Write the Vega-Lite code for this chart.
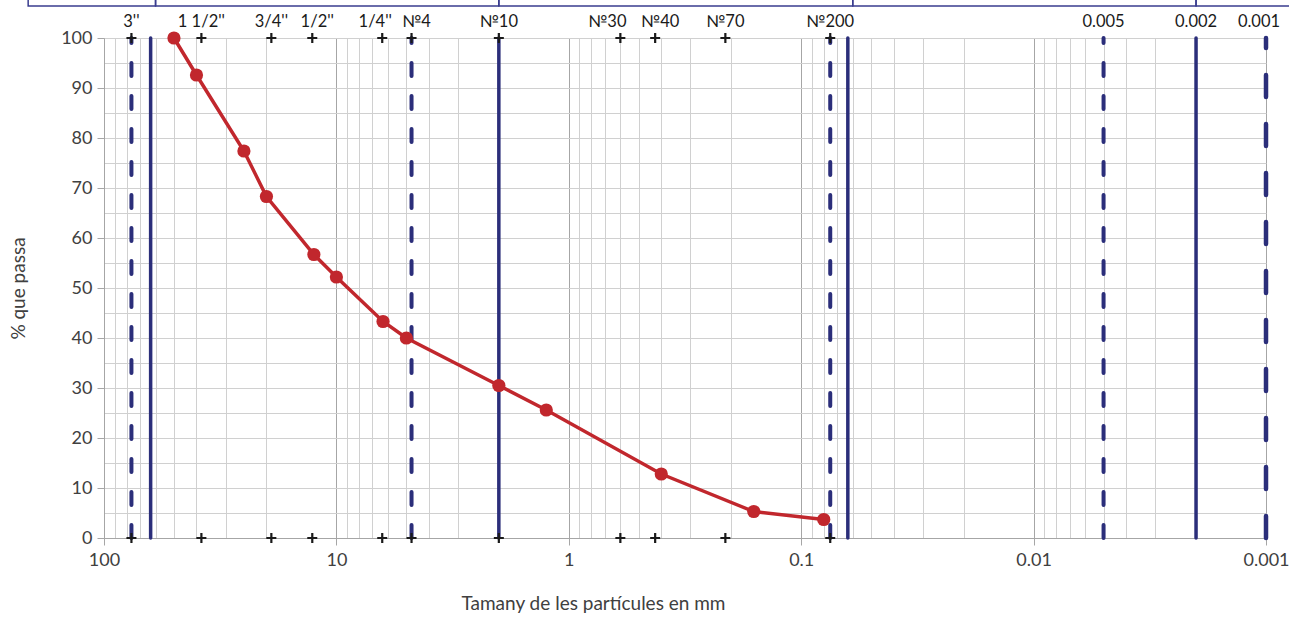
{
  "$schema": "https://vega.github.io/schema/vega-lite/v6.json",
  "autosize": "none",
  "width": 1162,
  "height": 500,
  "padding": {"left": 104, "top": 38, "right": 23, "bottom": 79},
  "background": "white",
  "config": {
    "view": {"stroke": null},
    "font": "Lato",
    "axis": {"labelFont": "Lato", "titleFont": "Lato", "labelColor": "#404040", "titleColor": "#404040", "titleFontWeight": "normal"},
    "text": {"baseline": "middle", "align": "center", "dy": -16, "fontSize": 16.5, "font": "Lato", "color": "#1a1a1a"}
  },
  "encoding": {
    "x": {
      "field": "d",
      "type": "quantitative",
      "scale": {"type": "log", "domain": [0.001, 100], "reverse": true, "nice": false, "zero": false},
      "axis": {
        "values": [100, 90, 80, 70, 60, 50, 40, 30, 20, 10, 9, 8, 7, 6, 5, 4, 3, 2, 1, 0.9, 0.8, 0.7, 0.6, 0.5, 0.4, 0.3, 0.2, 0.1, 0.09, 0.08, 0.07, 0.06, 0.05, 0.04, 0.03, 0.02, 0.01, 0.009, 0.008, 0.007, 0.006, 0.005, 0.004, 0.003, 0.002, 0.001],
        "format": "~g",
        "labelExpr": "abs(log(datum.value)/LN10 - round(log(datum.value)/LN10)) < 0.001 ? datum.label : ''",
        "labelOverlap": false,
        "labelBound": false,
        "labelFlush": false,
        "labelFontSize": 18,
        "labelPadding": 6,
        "grid": true,
        "gridColor": {"condition": {"test": "abs(log(datum.value)/LN10 - round(log(datum.value)/LN10)) < 0.001", "value": "#a6a6a6"}, "value": "#d0d0d0"},
        "gridWidth": 1,
        "tickColor": {"condition": {"test": "abs(log(datum.value)/LN10 - round(log(datum.value)/LN10)) < 0.001", "value": "#a6a6a6"}, "value": "transparent"},
        "tickSize": 7,
        "domainColor": "#a6a6a6",
        "title": "Tamany de les partícules en mm",
        "titleFontSize": 19,
        "titleX": 489,
        "titleY": 65,
        "titleAlign": "center",
        "titleBaseline": "middle"
      }
    },
    "y": {
      "field": "p",
      "type": "quantitative",
      "scale": {"domain": [0, 100], "nice": false, "zero": false},
      "axis": {
        "values": [0, 5, 10, 15, 20, 25, 30, 35, 40, 45, 50, 55, 60, 65, 70, 75, 80, 85, 90, 95, 100],
        "labelExpr": "datum.value % 10 === 0 ? datum.label : ''",
        "labelOverlap": false,
        "labelFontSize": 18,
        "labelPadding": 5,
        "grid": true,
        "gridColor": "#d0d0d0",
        "tickColor": {"condition": {"test": "datum.value % 10 === 0", "value": "#a6a6a6"}, "value": "transparent"},
        "tickSize": 7,
        "domainColor": "#a6a6a6",
        "title": "% que passa",
        "titleFontSize": 19,
        "titleX": -86,
        "titleY": 250,
        "titleAngle": -90,
        "titleAlign": "center",
        "titleBaseline": "middle"
      }
    }
  },
  "layer": [
    {
      "data": {"values": [
        {"d": 212, "d2": 60, "p": 106.4, "p2": 125},
        {"d": 60, "d2": 2, "p": 106.4, "p2": 125},
        {"d": 2, "d2": 0.06, "p": 106.4, "p2": 125},
        {"d": 0.06, "d2": 0.002, "p": 106.4, "p2": 125},
        {"d": 0.002, "d2": 0.0002, "p": 106.4, "p2": 125}
      ]},
      "mark": {"type": "rect", "fill": null, "stroke": "#3a3d8f", "strokeWidth": 1.5, "clip": false},
      "encoding": {"x2": {"field": "d2"}, "y2": {"field": "p2"}}
    },
    {
      "data": {"values": [
        {"d": 63, "p": 0, "p2": 100},
        {"d": 2, "p": 0, "p2": 100},
        {"d": 0.063, "p": 0, "p2": 100},
        {"d": 0.002, "p": 0, "p2": 100}
      ]},
      "mark": {"type": "rule", "color": "#2b2e7a", "strokeWidth": 3.5, "strokeCap": "round"},
      "encoding": {"y2": {"field": "p2"}}
    },
    {
      "data": {"values": [
        {"d": 76.2, "p": 0, "p2": 100},
        {"d": 4.75, "p": 0, "p2": 100},
        {"d": 0.075, "p": 0, "p2": 100},
        {"d": 0.005, "p": 0, "p2": 100}
      ]},
      "mark": {"type": "rule", "color": "#2b2e7a", "strokeWidth": 4, "strokeCap": "round", "strokeDash": [13, 20]},
      "encoding": {"y2": {"field": "p2"}}
    },
    {
      "data": {"values": [
        {"d": 0.001, "p": 0, "p2": 100}
      ]},
      "mark": {"type": "rule", "color": "#2b2e7a", "strokeWidth": 4.5, "strokeCap": "round", "strokeDash": [22, 27]},
      "encoding": {"y2": {"field": "p2"}}
    },
    {
      "data": {"values": [
        {"d": 50, "p": 100},
        {"d": 40, "p": 92.6},
        {"d": 25, "p": 77.4},
        {"d": 20, "p": 68.3},
        {"d": 12.5, "p": 56.7},
        {"d": 10, "p": 52.2},
        {"d": 6.3, "p": 43.3},
        {"d": 5, "p": 40.0},
        {"d": 2, "p": 30.5},
        {"d": 1.25, "p": 25.6},
        {"d": 0.4, "p": 12.8},
        {"d": 0.16, "p": 5.3},
        {"d": 0.08, "p": 3.7}
      ]},
      "mark": {"type": "line", "color": "#c1272d", "strokeWidth": 3.5, "point": {"filled": true, "size": 175, "color": "#c1272d", "opacity": 1}}
    },
    {
      "data": {"values": [
        {"d": 76.2, "p": 100}, {"d": 38.1, "p": 100}, {"d": 19.05, "p": 100}, {"d": 12.7, "p": 100}, {"d": 6.35, "p": 100}, {"d": 4.75, "p": 100}, {"d": 2, "p": 100}, {"d": 0.6, "p": 100}, {"d": 0.425, "p": 100}, {"d": 0.212, "p": 100}, {"d": 0.075, "p": 100},
        {"d": 76.2, "p": 0}, {"d": 38.1, "p": 0}, {"d": 19.05, "p": 0}, {"d": 12.7, "p": 0}, {"d": 6.35, "p": 0}, {"d": 4.75, "p": 0}, {"d": 2, "p": 0}, {"d": 0.6, "p": 0}, {"d": 0.425, "p": 0}, {"d": 0.212, "p": 0}, {"d": 0.075, "p": 0}
      ]},
      "mark": {"type": "point", "shape": "M-1,0L1,0M0,-1L0,1", "filled": false, "stroke": "#1a1a1a", "strokeWidth": 2.2, "size": 100, "opacity": 1, "clip": false}
    },
    {
      "data": {"values": [
        {"d": 76.2, "p": 100, "label": "3''"},
        {"d": 38.1, "p": 100, "label": "1 1/2''"},
        {"d": 19.05, "p": 100, "label": "3/4''"},
        {"d": 2, "p": 100, "label": "№10"},
        {"d": 0.212, "p": 100, "label": "№70"},
        {"d": 0.075, "p": 100, "label": "№200"},
        {"d": 0.005, "p": 100, "label": "0.005"},
        {"d": 0.002, "p": 100, "label": "0.002"}
      ]},
      "mark": {"type": "text", "clip": false},
      "encoding": {"text": {"field": "label"}}
    },
    {
      "data": {"values": [
        {"d": 6.35, "p": 100, "label": "1/4''"},
        {"d": 0.001, "p": 100, "label": "0.001"}
      ]},
      "mark": {"type": "text", "dx": -7, "clip": false},
      "encoding": {"text": {"field": "label"}}
    },
    {
      "data": {"values": [
        {"d": 0.6, "p": 100, "label": "№30"}
      ]},
      "mark": {"type": "text", "dx": -13, "clip": false},
      "encoding": {"text": {"field": "label"}}
    },
    {
      "data": {"values": [
        {"d": 12.7, "p": 100, "label": "1/2''"},
        {"d": 4.75, "p": 100, "label": "№4"},
        {"d": 0.425, "p": 100, "label": "№40"}
      ]},
      "mark": {"type": "text", "dx": 5, "clip": false},
      "encoding": {"text": {"field": "label"}}
    }
  ]
}
